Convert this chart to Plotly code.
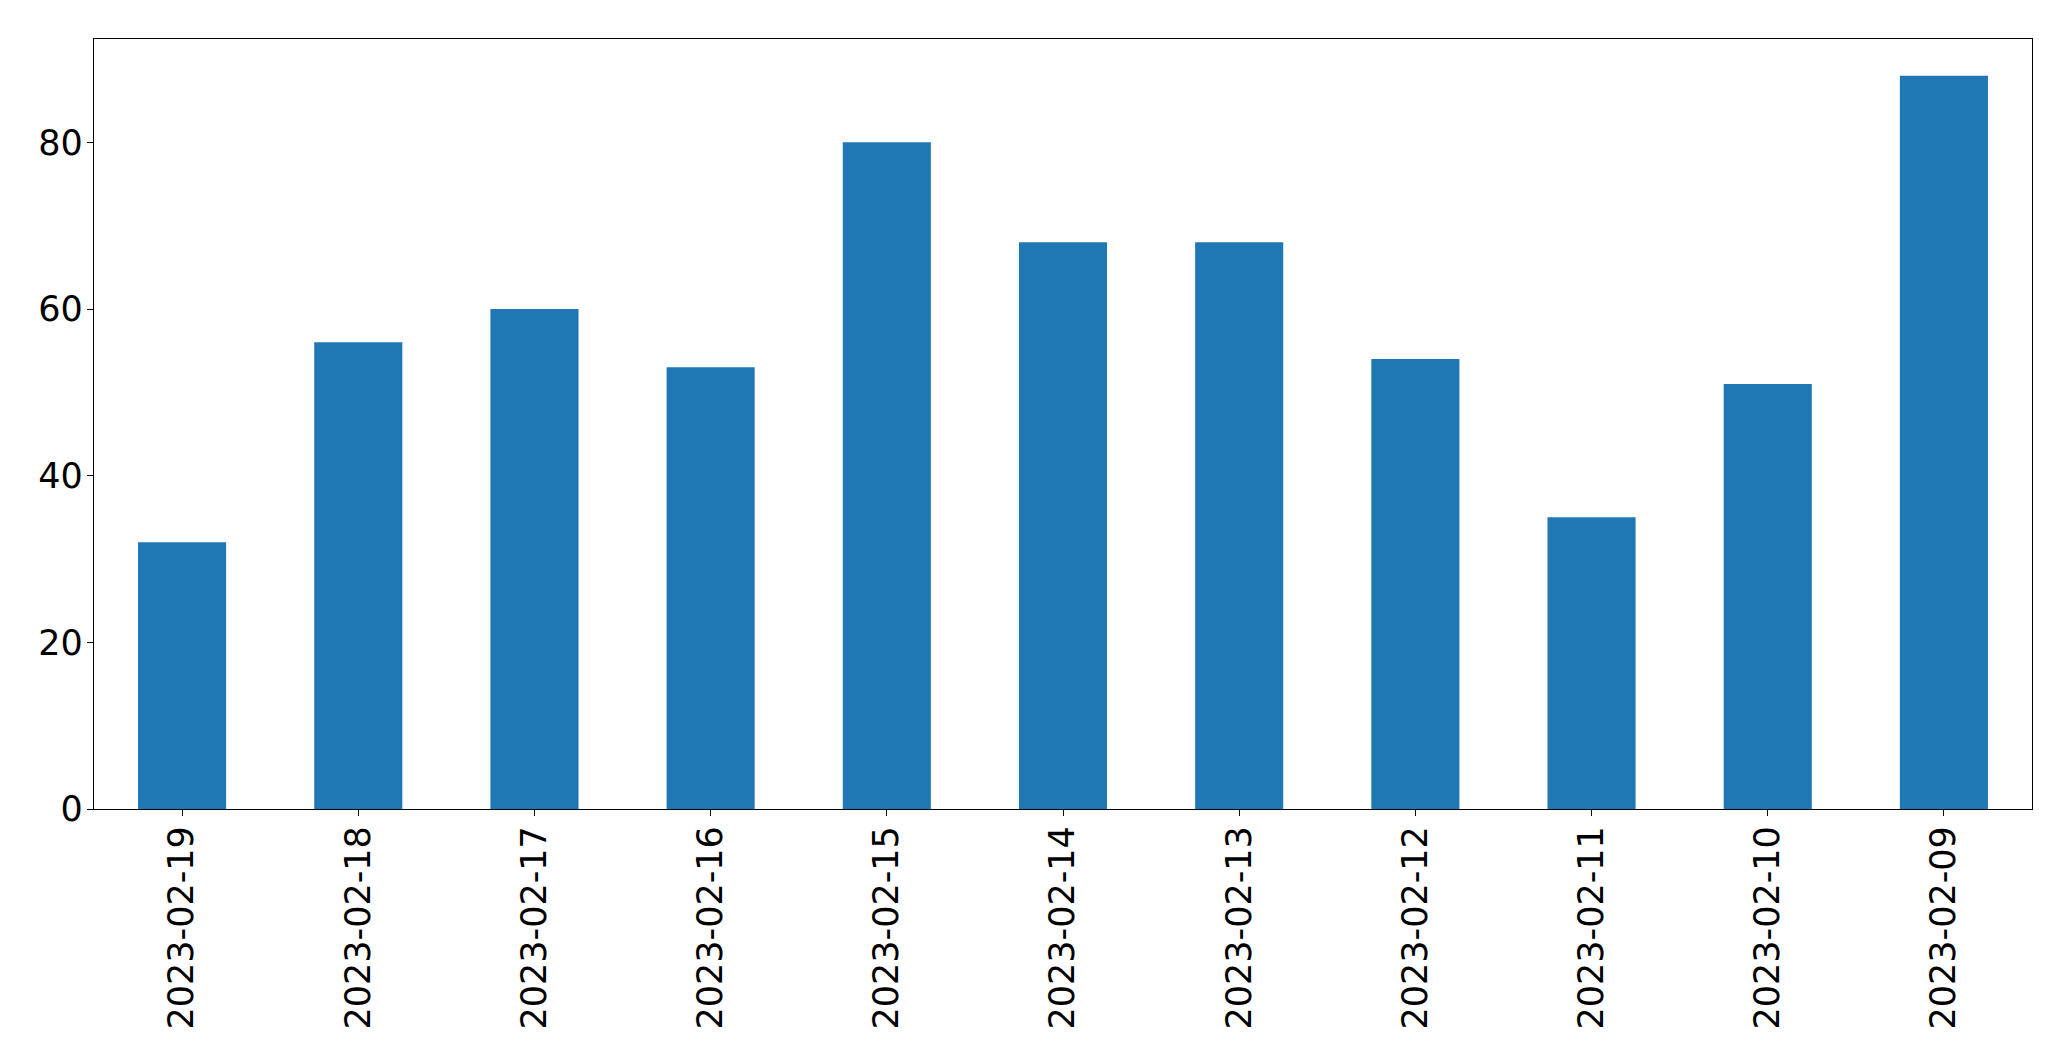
import plotly.graph_objects as go

# dates as shown on the x axis (newest first) and the bar heights
dates = ['2023-02-19', '2023-02-18', '2023-02-17', '2023-02-16', '2023-02-15',
         '2023-02-14', '2023-02-13', '2023-02-12', '2023-02-11', '2023-02-10',
         '2023-02-09']
counts = [32, 56, 60, 53, 80, 68, 68, 54, 35, 51, 88]
y_ticks = [0, 20, 40, 60, 80]

fig = go.Figure()
fig.add_trace(go.Bar(
    x=dates,
    y=counts,
    width=0.5,
    marker=dict(color='#1f77b4', line=dict(width=0)),
    showlegend=False
))

axis_font = dict(family='DejaVu Sans', size=35, color='black')

# page body keeps an 8px margin, so keep the figure inside the window
fig.update_layout(
    width=2055,
    height=1045,
    margin=dict(l=86, r=31, t=31, b=244),
    plot_bgcolor='white',
    paper_bgcolor='white',
    xaxis=dict(
        type='category',
        range=[-0.5, len(dates) - 0.5],
        showline=True, mirror=True, linecolor='black', linewidth=1.3,
        ticks='outside', ticklen=6, tickwidth=1.3, tickcolor='black',
        tickangle=-90, tickfont=axis_font, ticklabelstandoff=-4,
        showgrid=False, zeroline=False
    ),
    yaxis=dict(
        range=[0, 92.4],
        tickvals=y_ticks,
        showline=True, mirror=True, linecolor='black', linewidth=1.3,
        ticks='outside', ticklen=6, tickwidth=1.3, tickcolor='black',
        tickfont=axis_font, ticklabelstandoff=-3,
        showgrid=False, zeroline=False
    )
)

fig.write_html("out.html")
